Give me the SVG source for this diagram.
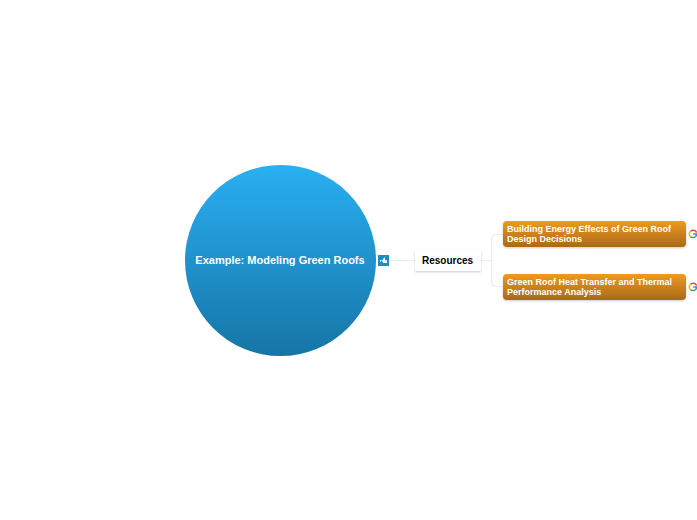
<svg xmlns="http://www.w3.org/2000/svg" width="697" height="520" viewBox="0 0 697 520">
<style>
text{font-family:"Liberation Sans",Arial,sans-serif;font-weight:700}
.conn{fill:none;stroke:#ececec;stroke-width:1.200}
.leaf rect{fill:url(#og);filter:url(#sh)}
.leaf text{fill:#fff;font-size:9px}
</style>
<defs>
<linearGradient id="bg" x1="0" y1="0" x2="0" y2="1"><stop offset="0" stop-color="#29aff2"/><stop offset="1" stop-color="#1675a6"/></linearGradient>
<linearGradient id="og" x1="0" y1="0" x2="0" y2="1"><stop offset="0" stop-color="#ee9a20"/><stop offset="1" stop-color="#a86a18"/></linearGradient>
<filter id="sh" x="-10%" y="-20%" width="120%" height="150%"><feDropShadow dx="0" dy="1" stdDeviation="1.200" flood-color="#000" flood-opacity=".2"/></filter>
<g id="gicon" fill="none" stroke-width="1.500">
<path d="M3.600 -1.400A3.600 3.600 0 0 0 -2.600 -2.500" stroke="#ea4335"/>
<path d="M-2.600 -2.500A3.600 3.600 0 0 0 -2.600 2.500" stroke="#fbbc05"/>
<path d="M-2.600 2.500A3.600 3.600 0 0 0 2.600 2.500" stroke="#34a853"/>
<path d="M2.600 2.500A3.600 3.600 0 0 0 3.600 0H0.200" stroke="#4285f4"/>
</g>
</defs>
<rect width="697" height="520" fill="#fff"/>
<g id="connectors">
<path class="conn" d="M389 260.500H415"/>
<path class="conn" d="M481 260.500H491.500"/>
<path class="conn" d="M503 234.500H496.500Q491.500 234.500 491.500 239.500V281.500Q491.500 286.500 496.500 286.500H503"/>
</g>
<g id="root">
<circle cx="280.500" cy="260.500" r="95.500" fill="url(#bg)"/>
<text x="280" y="264" font-size="11" fill="#fff" text-anchor="middle">Example: Modeling Green Roofs</text>
<rect x="378" y="255" width="11" height="11" fill="#1c8ccb"/>
<path d="M379.500 260.500l2.500 -.5l-1.500 2zM382 261l2.500 -4l.8 3.200h1.700v2.800h-3.500z" fill="#fff"/>
</g>
<g id="resources">
<rect x="415" y="250" width="66" height="21" fill="#fff" filter="url(#sh)"/>
<text x="447.500" y="264" font-size="10" fill="#000" text-anchor="middle">Resources</text>
</g>
<g id="leaf1" class="leaf">
<rect x="503" y="221" width="183" height="26" rx="4"/>
<text x="507" y="232">Building Energy Effects of Green Roof</text>
<text x="507" y="242">Design Decisions</text>
<use href="#gicon" x="693" y="234"/>
</g>
<g id="leaf2" class="leaf">
<rect x="503" y="274" width="183" height="26" rx="4"/>
<text x="507" y="285">Green Roof Heat Transfer and Thermal</text>
<text x="507" y="295">Performance Analysis</text>
<use href="#gicon" x="693" y="287"/>
</g>
</svg>
